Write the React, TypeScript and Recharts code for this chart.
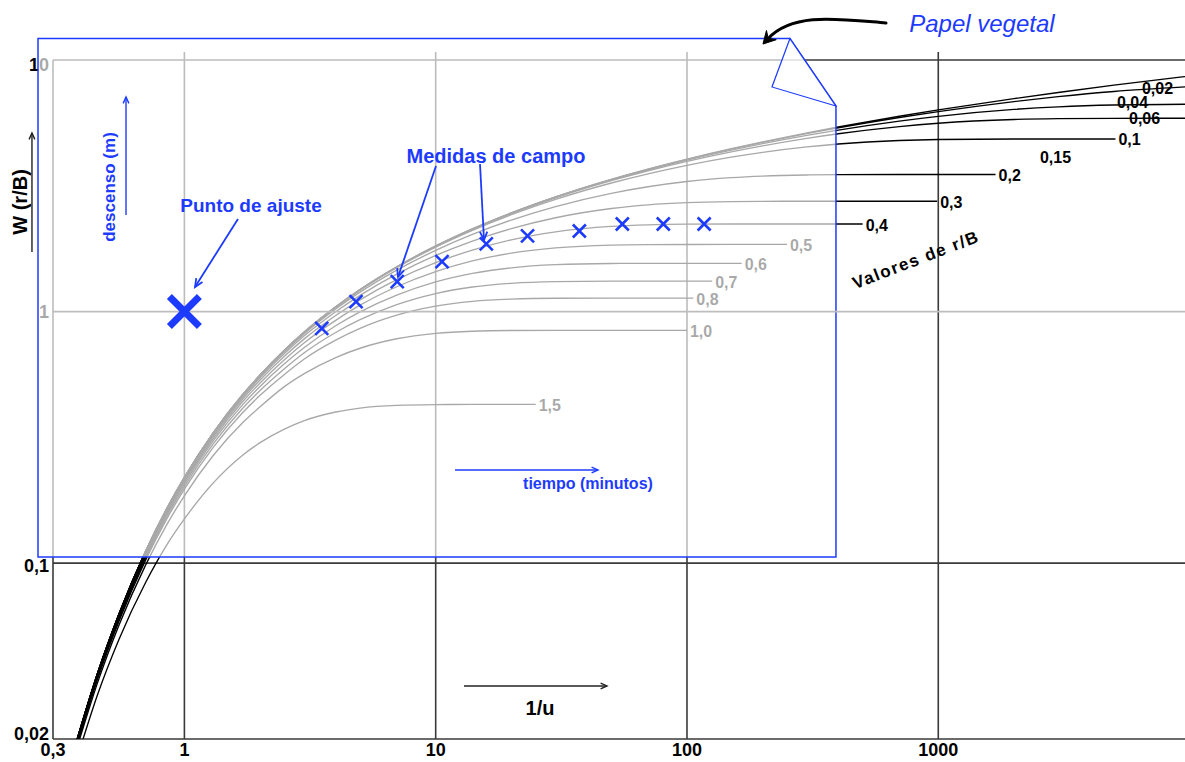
import React from 'react'
import {
  ComposedChart, Line, Scatter, XAxis, YAxis,
  ReferenceLine, ReferenceArea, ReferenceDot,
} from 'recharts'

const FONT = '"Liberation Sans", Arial, Helvetica, sans-serif'
const BLUE = '#1d3bff'
const INK = '#000'
const GRID = '#3a3a3a'
const PAPER_GRID = '#bdbdbd'

const T_GRID = [0.37, 0.38, 0.45, 0.55, 0.7, 0.85, 1, 1.3, 1.7, 2, 2.5, 3, 4, 5, 7, 10, 14, 20, 30, 50, 70, 100, 150, 200, 300, 400, 700, 1000, 2000, 3000, 5000, 9590]

// W(u, r/B) for each curve, null once the curve has stopped
const W_THEIS = [0.0192, 0.021, 0.0362, 0.0631, 0.1113, 0.1646, 0.2194, 0.329, 0.466, 0.5598, 0.7024, 0.83, 1.0443, 1.2227, 1.506, 1.8229, 2.132, 2.468, 2.857, 3.355, 3.686, 4.038, 4.44, 4.726, 5.13, 5.417, 5.975, 6.332, 7.024, 7.429, 7.94, 8.59]
const W_002 = [0.0192, 0.021, 0.0362, 0.0631, 0.1113, 0.1646, 0.2194, 0.329, 0.466, 0.5598, 0.7024, 0.83, 1.0443, 1.2227, 1.506, 1.8227, 2.131, 2.466, 2.854, 3.35, 3.679, 4.029, 4.426, 4.707, 5.101, 5.378, 5.907, 6.235, 6.835, 7.152, 7.498, 7.82]
const W_004 = [0.0192, 0.021, 0.0362, 0.0631, 0.1113, 0.1646, 0.2194, 0.329, 0.466, 0.5595, 0.702, 0.829, 1.0435, 1.2215, 1.504, 1.82, 2.128, 2.461, 2.847, 3.337, 3.66, 4.0, 4.383, 4.65, 5.016, 5.265, 5.716, 5.971, 6.363, 6.515, 6.624, 6.668]
const W_006 = [0.0192, 0.021, 0.0362, 0.063, 0.1112, 0.1644, 0.2191, 0.3287, 0.4655, 0.5589, 0.7015, 0.8285, 1.0424, 1.2201, 1.502, 1.8164, 2.122, 2.453, 2.834, 3.314, 3.628, 3.955, 4.315, 4.56, 4.883, 5.092, 5.437, 5.606, 5.801, 5.847, 5.864, 5.866]
const W_01 = [0.0192, 0.021, 0.0362, 0.063, 0.1112, 0.1644, 0.219, 0.3283, 0.4648, 0.5582, 0.7, 0.8267, 1.0391, 1.2155, 1.4946, 1.805, 2.105, 2.427, 2.793, 3.244, 3.529, 3.815, 4.11, 4.296, 4.515, 4.635, 4.785, 4.829, 4.853, 4.854, 4.854, null]
const W_02 = [0.0191, 0.0209, 0.0361, 0.0628, 0.1107, 0.1636, 0.2179, 0.3263, 0.4611, 0.5533, 0.6927, 0.8169, 1.0238, 1.1943, 1.461, 1.752, 2.027, 2.311, 2.615, 2.952, 3.135, 3.288, 3.406, 3.457, 3.492, 3.502, 3.505, 3.505, null, null, null, null]
const W_03 = [0.0191, 0.0209, 0.0359, 0.0625, 0.11, 0.1624, 0.2161, 0.3229, 0.4553, 0.5453, 0.6808, 0.8008, 0.9987, 1.1598, 1.408, 1.671, 1.907, 2.137, 2.361, 2.569, 2.656, 2.71, 2.737, 2.743, 2.745, 2.745, 2.745, null, null, null, null, null]
const W_04 = [0.019, 0.0207, 0.0357, 0.0621, 0.1091, 0.1607, 0.2135, 0.3182, 0.4472, 0.5343, 0.6645, 0.7789, 0.9647, 1.1131, 1.3389, 1.5646, 1.7558, 1.9284, 2.0744, 2.181, 2.2124, 2.2253, 2.2287, 2.229, 2.229, 2.229, null, null, null, null, null, null]
const W_05 = [0.0189, 0.0206, 0.0354, 0.0615, 0.1078, 0.1586, 0.2103, 0.3123, 0.437, 0.5204, 0.6441, 0.7515, 0.9226, 1.0601, 1.2551, 1.4418, 1.5893, 1.7075, 1.792, 1.838, 1.846, 1.848, 1.849, 1.849, null, null, null, null, null, null, null, null]
const W_06 = [0.0187, 0.0204, 0.0351, 0.0608, 0.1063, 0.1561, 0.2064, 0.3053, 0.4248, 0.504, 0.62, 0.7193, 0.878, 0.997, 1.1624, 1.3115, 1.4178, 1.4927, 1.5363, 1.5529, 1.5548, 1.555, 1.555, null, null, null, null, null, null, null, null, null]
const W_07 = [0.0185, 0.0202, 0.0347, 0.06, 0.1046, 0.1531, 0.2019, 0.2971, 0.4108, 0.4852, 0.5927, 0.6861, 0.826, 0.9285, 1.0654, 1.179, 1.2518, 1.2954, 1.3153, 1.3207, 1.321, 1.321, null, null, null, null, null, null, null, null, null, null]
const W_08 = [0.0183, 0.02, 0.0343, 0.059, 0.1026, 0.1497, 0.1969, 0.288, 0.3953, 0.4645, 0.5627, 0.6481, 0.7703, 0.8578, 0.9675, 1.0505, 1.0975, 1.1207, 1.1293, 1.1307, 1.1307, null, null, null, null, null, null, null, null, null, null, null]
const W_10 = [0.0179, 0.0195, 0.0332, 0.0569, 0.098, 0.142, 0.1852, 0.2672, 0.3604, 0.4182, 0.5033, 0.5669, 0.6568, 0.7149, 0.7796, 0.819, 0.8355, 0.8409, 0.8419, 0.842, 0.842, 0.842, null, null, null, null, null, null, null, null, null, null]
const W_15 = [0.0163, 0.0177, 0.0298, 0.05, 0.0836, 0.118, 0.1499, 0.208, 0.2681, 0.3012, 0.3409, 0.3685, 0.3989, 0.4135, 0.424, 0.427, 0.4276, 0.4276, null, null, null, null, null, null, null, null, null, null, null, null, null, null]

const CURVE_NAMES = ['', '0,02', '0,04', '0,06', '0,1', '0,2', '0,3', '0,4', '0,5', '0,6', '0,7', '0,8', '1,0', '1,5']
const CURVE_VALUES = [W_THEIS, W_002, W_004, W_006, W_01, W_02, W_03, W_04, W_05, W_06, W_07, W_08, W_10, W_15]
const CURVE_END = [9590, 9590, 9590, 9590, 5070, 1690, 990, 500, 250, 165, 126, 106, 100, 25]

// labels on the upper right that are not at a curve end
const FREE_LABELS = ['0,02', '0,04', '0,06', '0,15']
const FREE_LABEL_T = [6466, 5142, 5741, 2539]
const FREE_LABEL_W = [7.67, 6.75, 5.83, 4.08]

// field drawdowns drawn on the tracing paper
const FIELD_T = [3.52, 4.82, 7.03, 10.6, 15.9, 23.2, 37.3, 55.3, 80.5, 117]
const FIELD_W = [0.858, 1.095, 1.315, 1.579, 1.857, 1.998, 2.091, 2.229, 2.229, 2.229]
const MATCH_T = [1]
const MATCH_W = [1]

const X_TICKS = [0.3, 1, 10, 100, 1000]
const Y_TICKS = [0.02, 0.1, 1, 10]
const V_GRID = [1, 10, 100, 1000]
const H_GRID = [0.02, 0.1, 10]

const CURVES = CURVE_VALUES.map((vals, i) => {
  const pts: { t: number; w: number }[] = []
  vals.forEach((w, j) => {
    if (w != null && T_GRID[j] <= CURVE_END[i]) pts.push({ t: T_GRID[j], w })
  })
  const last = pts[pts.length - 1]
  if (last.t < CURVE_END[i]) pts.push({ t: CURVE_END[i], w: last.w })
  return { name: CURVE_NAMES[i], data: pts, end: pts[pts.length - 1] }
})
const FIELD = FIELD_T.map((t, i) => ({ t, w: FIELD_W[i] }))
const MATCH = MATCH_T.map((t, i) => ({ t, w: MATCH_W[i] }))

const fmt = (v: number) => String(v).replace('.', ',')
const Y_DY: Record<string, number> = { '10': 11, '1': 6, '0.1': 9, '0.02': 1 }

type TextOpts = {
  size: number; color?: string; anchor?: string; rotate?: number; italic?: boolean
  spacing?: number; bold?: boolean; dx?: number; dy?: number; baseline?: string
}
const textShape = (text: string, o: TextOpts) => (p: any) => {
  const x = p.cx + (o.dx ?? 0)
  const y = p.cy + (o.dy ?? 0)
  return (
    <text
      x={x} y={y}
      textAnchor={o.anchor ?? 'middle'}
      dominantBaseline={o.baseline ?? 'central'}
      transform={o.rotate ? `rotate(${o.rotate} ${x} ${y})` : undefined}
      fontFamily={FONT}
      fontSize={o.size}
      fontWeight={o.bold === false ? 'normal' : 'bold'}
      fontStyle={o.italic ? 'italic' : 'normal'}
      letterSpacing={o.spacing ?? 0}
      fill={o.color ?? INK}
    >
      {text}
    </text>
  )
}

const arrowShape = (color: string, width: number, head: number) => (p: any) => {
  const { x1, y1, x2, y2 } = p
  const a = Math.atan2(y2 - y1, x2 - x1)
  const s = 0.42
  const ax = x2 - head * Math.cos(a - s)
  const ay = y2 - head * Math.sin(a - s)
  const bx = x2 - head * Math.cos(a + s)
  const by = y2 - head * Math.sin(a + s)
  return (
    <g>
      <line x1={x1} y1={y1} x2={x2} y2={y2} stroke={color} strokeWidth={width} />
      <polyline points={`${ax},${ay} ${x2},${y2} ${bx},${by}`} fill="none" stroke={color} strokeWidth={width} />
    </g>
  )
}

// hand drawn arrow pointing at the tracing paper
const curvedArrow = (p: any) => {
  const { x1, y1, x2, y2 } = p
  const c1x = x1 - 48, c1y = y1 - 4
  const c2x = x2 + 30, c2y = y2 - 32
  const a = Math.atan2(y2 - c2y, x2 - c2x)
  const h = 14
  const ax = x2 - h * Math.cos(a - 0.5), ay = y2 - h * Math.sin(a - 0.5)
  const bx = x2 - h * Math.cos(a + 0.5), by = y2 - h * Math.sin(a + 0.5)
  const mx = x2 - h * 0.55 * Math.cos(a), my = y2 - h * 0.55 * Math.sin(a)
  return (
    <g>
      <path d={`M${x1},${y1} C${c1x},${c1y} ${c2x},${c2y} ${mx},${my}`} fill="none" stroke={INK} strokeWidth={3} strokeLinecap="round" />
      <path d={`M${x2},${y2} L${ax},${ay} L${mx},${my} L${bx},${by} Z`} fill={INK} stroke={INK} strokeWidth={1} />
    </g>
  )
}

// translucent tracing paper with its folded corner
const paperShape = (p: any) => {
  const { x, y, width, height } = p
  const r = x + width
  return (
    <g>
      <path
        d={`M${x},${y} H${r - 46} L${r},${y + 67.5} V${y + height} H${x} Z`}
        fill="#fff" fillOpacity={0.66} stroke={BLUE} strokeWidth={1.5}
      />
      <path
        d={`M${r - 46},${y} L${r - 64},${y + 48.5} L${r},${y + 67.5} Z`}
        fill="#fff" fillOpacity={0.5} stroke={BLUE} strokeWidth={1.2}
      />
    </g>
  )
}

const xMark = (size: number, width: number) => (p: any) => (
  <path
    d={`M${p.cx - size},${p.cy - size}L${p.cx + size},${p.cy + size}M${p.cx - size},${p.cy + size}L${p.cx + size},${p.cy - size}`}
    stroke={BLUE} strokeWidth={width} fill="none"
  />
)

export default function App() {
  return (
    <div style={{ position: 'absolute', left: 0, top: 0, background: '#fff' }}>
      <ComposedChart width={1185} height={762} margin={{ top: 60, right: 0, bottom: 0, left: 0 }}>
        <XAxis
          dataKey="t" type="number" scale="log" domain={[0.3, 9590]} allowDataOverflow
          ticks={X_TICKS} tick={false} tickLine={false} axisLine={false} height={23}
        />
        <YAxis
          dataKey="w" type="number" scale="log" domain={[0.02, 10]} allowDataOverflow
          ticks={Y_TICKS} tick={false} tickLine={false} axisLine={false} width={53}
        />

        {H_GRID.map(v => (
          <ReferenceLine key={'h' + v} y={v} stroke={GRID} strokeWidth={1.6} ifOverflow="visible" zIndex={300} />
        ))}
        <ReferenceLine x={0.3} stroke={GRID} strokeWidth={1.6} ifOverflow="visible" zIndex={300} />
        {V_GRID.map(v => (
          <ReferenceLine
            key={'v' + v}
            segment={[{ x: v, y: 0.02 }, { x: v, y: 10.76 }]}
            stroke={GRID} strokeWidth={1.6} ifOverflow="visible" zIndex={300}
          />
        ))}

        {X_TICKS.map(v => (
          <ReferenceDot
            key={'xt' + v} x={v} y={0.02} r={0} ifOverflow="visible" zIndex={450}
            shape={textShape(fmt(v), { size: 18, dy: 17, baseline: 'alphabetic' })}
          />
        ))}
        {Y_TICKS.map(v => (
          <ReferenceDot
            key={'yt' + v} x={0.3} y={v} r={0} ifOverflow="visible" zIndex={450}
            shape={textShape(fmt(v), { size: 18, anchor: 'end', dx: -4, dy: Y_DY[String(v)], baseline: 'alphabetic' })}
          />
        ))}

        {CURVES.map(c => (
          <Line
            key={'c' + c.name}
            data={c.data}
            dataKey="w"
            type="monotone"
            stroke={INK}
            strokeWidth={1.35}
            dot={false}
            activeDot={false}
            isAnimationActive={false}
          />
        ))}

        {CURVES.slice(4).map(c => (
          <ReferenceDot
            key={'l' + c.name} x={c.end.t} y={c.end.w} r={0} ifOverflow="visible" zIndex={450}
            shape={textShape(c.name, { size: 16, anchor: 'start', dx: 3, dy: 1 })}
          />
        ))}
        {FREE_LABELS.map((s, i) => (
          <ReferenceDot
            key={'f' + s} x={FREE_LABEL_T[i]} y={FREE_LABEL_W[i]} r={0} ifOverflow="visible" zIndex={450}
            shape={textShape(s, { size: 16, anchor: 'start' })}
          />
        ))}
        <ReferenceDot
          x={815} y={1.604} r={0} ifOverflow="visible" zIndex={450}
          shape={textShape('Valores de r/B', { size: 17, rotate: -21, spacing: 1.5 })}
        />
        <ReferenceDot
          x={0.2217} y={2.727} r={0} ifOverflow="visible" zIndex={450}
          shape={textShape('W (r/B)', { size: 20, rotate: -90 })}
        />
        <ReferenceLine
          segment={[{ x: 0.2474, y: 1.725 }, { x: 0.2474, y: 5.128 }]}
          ifOverflow="visible" zIndex={450} shape={arrowShape('#222', 1.4, 7)}
        />
        <ReferenceDot
          x={26} y={0.02657} r={0} ifOverflow="visible" zIndex={450}
          shape={textShape('1/u', { size: 20 })}
        />
        <ReferenceLine
          segment={[{ x: 12.96, y: 0.0325 }, { x: 48.05, y: 0.0325 }]}
          ifOverflow="visible" zIndex={450} shape={arrowShape('#222', 1.4, 7)}
        />

        <ReferenceArea
          x1={0.2615} x2={391.6} y1={0.1058} y2={12.18}
          ifOverflow="visible" zIndex={1500} shape={paperShape}
        />
        {/* the sheet's own 1 m line, printed across the whole width */}
        <ReferenceLine y={1} stroke={PAPER_GRID} strokeWidth={1.6} ifOverflow="visible" zIndex={1550} />

        <Scatter data={FIELD} dataKey="w" isAnimationActive={false} zIndex={1600} shape={xMark(6.5, 2.6)} />
        <Scatter data={MATCH} dataKey="w" isAnimationActive={false} zIndex={1600} shape={xMark(15, 7)} />

        <ReferenceDot
          x={0.5058} y={3.128} r={0} ifOverflow="visible" zIndex={1700}
          shape={textShape('descenso (m)', { size: 17, rotate: -90, color: BLUE })}
        />
        <ReferenceLine
          segment={[{ x: 0.5857, y: 2.421 }, { x: 0.5857, y: 7.128 }]}
          ifOverflow="visible" zIndex={1700} shape={arrowShape(BLUE, 1.4, 7)}
        />
        <ReferenceDot
          x={1.841} y={2.63} r={0} ifOverflow="visible" zIndex={1700}
          shape={textShape('Punto de ajuste', { size: 19, color: BLUE })}
        />
        <ReferenceLine
          segment={[{ x: 1.634, y: 2.334 }, { x: 1.102, y: 1.252 }]}
          ifOverflow="visible" zIndex={1700} shape={arrowShape(BLUE, 1.8, 9)}
        />
        <ReferenceDot
          x={17.38} y={4.154} r={0} ifOverflow="visible" zIndex={1700}
          shape={textShape('Medidas de campo', { size: 20, color: BLUE })}
        />
        <ReferenceLine
          segment={[{ x: 10.03, y: 3.791 }, { x: 7.079, y: 1.372 }]}
          ifOverflow="visible" zIndex={1700} shape={arrowShape(BLUE, 1.8, 9)}
        />
        <ReferenceLine
          segment={[{ x: 15.01, y: 3.861 }, { x: 15.57, y: 1.926 }]}
          ifOverflow="visible" zIndex={1700} shape={arrowShape(BLUE, 1.8, 9)}
        />
        <ReferenceDot
          x={40.37} y={0.2064} r={0} ifOverflow="visible" zIndex={1700}
          shape={textShape('tiempo (minutos)', { size: 16, color: BLUE })}
        />
        <ReferenceLine
          segment={[{ x: 11.94, y: 0.2347 }, { x: 44.25, y: 0.2347 }]}
          ifOverflow="visible" zIndex={1700} shape={arrowShape(BLUE, 1.4, 7)}
        />

        <ReferenceDot
          x={1492} y={14.03} r={0} ifOverflow="visible" zIndex={1700}
          shape={textShape('Papel vegetal', { size: 24, italic: true, bold: false, color: BLUE })}
        />
        <ReferenceLine
          segment={[{ x: 619.4, y: 14.03 }, { x: 200.6, y: 11.57 }]}
          ifOverflow="visible" zIndex={1700} shape={curvedArrow}
        />
      </ComposedChart>
    </div>
  )
}
